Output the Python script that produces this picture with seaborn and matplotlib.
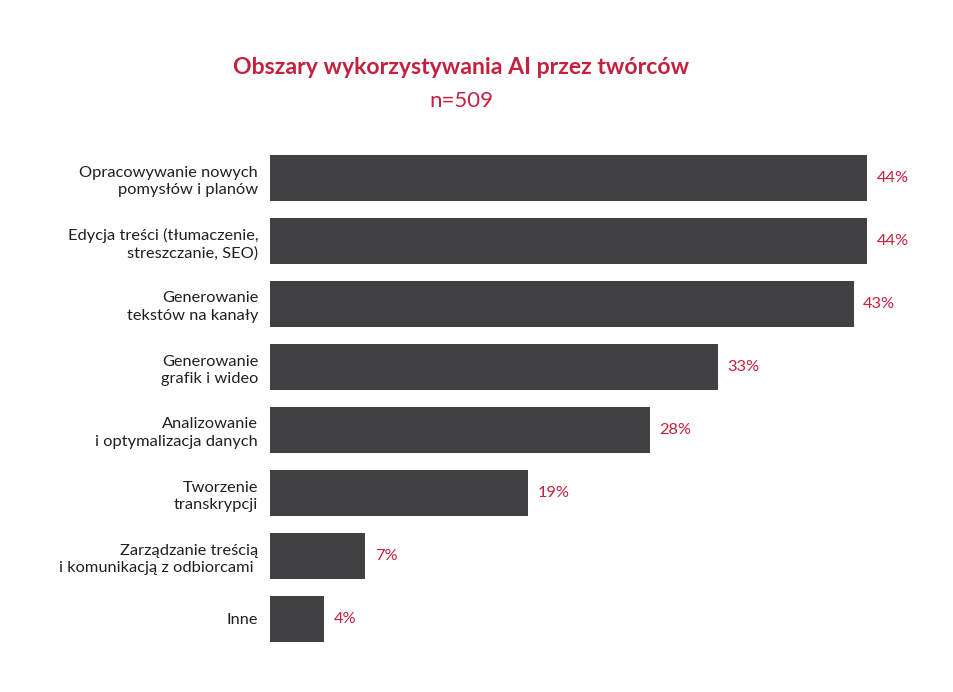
import matplotlib
matplotlib.use("Agg")
import matplotlib.pyplot as plt
import seaborn as sns
import pandas as pd

categories = [
    "Opracowywanie nowych\npomysłów i planów",
    "Edycja treści (tłumaczenie,\nstreszczanie, SEO)",
    "Generowanie\ntekstów na kanały",
    "Generowanie\ngrafik i wideo",
    "Analizowanie\ni optymalizacja danych",
    "Tworzenie\ntranskrypcji",
    "Zarządzanie treścią\ni komunikacją z odbiorcami ",
    "Inne",
]
values = [44, 44, 43, 33, 28, 19, 7, 4]
value_labels = ["44%", "44%", "43%", "33%", "28%", "19%", "7%", "4%"]

title = "Obszary wykorzystywania AI przez twórców"
subtitle = "n=509"

BAR = "#414042"
RED = "#C4213F"
TXT = "#231F20"

sns.set_theme(style="white")
plt.rcParams["font.family"] = ["Lato", "DejaVu Sans"]

df = pd.DataFrame({"cat": categories, "val": values})

W, H = 954, 692
fig = plt.figure(figsize=(W / 100, H / 100), dpi=100)
left = 270 / W
top_px, bot_px = 146.5, 650.5
ax_w = (13.57 * 50) / W
ax = fig.add_axes([left, 1 - bot_px / H, ax_w, (bot_px - top_px) / H])

sns.barplot(data=df, x="val", y="cat", color=BAR, width=0.73, ax=ax,
            saturation=1, orient="h")
for p in ax.patches:
    p.set_edgecolor("none")

ax.set_xlim(0, 50)
ax.set_ylim(7.5, -0.5)
ax.set_xlabel("")
ax.set_ylabel("")
ax.set_xticks([])
for s in ax.spines.values():
    s.set_visible(False)
ax.tick_params(axis="y", length=0, pad=8.5, labelsize=11.8, labelcolor=TXT)
for t in ax.get_yticklabels():
    t.set_horizontalalignment("right")
    t.set_linespacing(1.3)

for i, (v, lab) in enumerate(zip(values, value_labels)):
    ax.annotate(lab, xy=(v, i), xytext=(7, 0), textcoords="offset points",
                va="center", ha="left", color=RED, fontsize=11.8)

fig.text(461 / W, 1 - 67 / H, title, ha="center", va="center",
         fontsize=16.6, fontweight="bold", color=RED)
fig.text(461 / W, 1 - 101 / H, subtitle, ha="center", va="center",
         fontsize=16, color=RED)

fig.savefig("out.png", dpi=100, facecolor="white")
